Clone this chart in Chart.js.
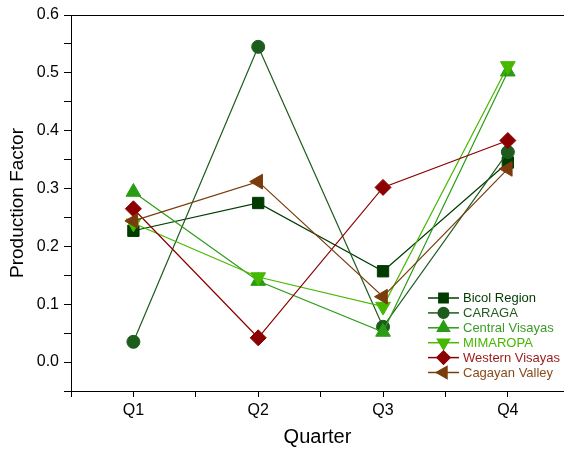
<!DOCTYPE html>
<html>
<head>
<meta charset="utf-8">
<script src="https://cdn.jsdelivr.net/npm/chart.js@4.4.1/dist/chart.umd.min.js"></script>
<style>
  html, body { margin: 0; padding: 0; background: #fff; }
  #wrap { width: 564px; height: 450px; }
</style>
</head>
<body>
<div id="wrap"><canvas id="chart"></canvas></div>
<script>
// quarters on the x axis
const quarters = ['Q1', 'Q2', 'Q3', 'Q4'];

// production factor per region
const bicolRegion     = [0.227, 0.275, 0.157, 0.345];
const caraga          = [0.035, 0.545, 0.061, 0.363];
const centralVisayas  = [0.294, 0.140, 0.052, 0.502];
const mimaropa        = [0.240, 0.147, 0.096, 0.512];
const westernVisayas  = [0.265, 0.042, 0.302, 0.383];
const cagayanValley   = [0.244, 0.312, 0.113, 0.334];

const yTickLabels = ['0.0', '0.1', '0.2', '0.3', '0.4', '0.5', '0.6'];

const series = [
    { label: 'Bicol Region',     data: bicolRegion,    color: '#003b00', text: '#003b00', style: 'rect',     radius: 8,   rotation: 0 },
    { label: 'CARAGA',           data: caraga,         color: '#1e5c1e', text: '#1e5c1e', style: 'circle',   radius: 6.5, rotation: 0 },
    { label: 'Central Visayas',  data: centralVisayas, color: '#2a9c14', text: '#3c9c28', style: 'triangle', radius: 8.5, rotation: 0 },
    { label: 'MIMAROPA',         data: mimaropa,       color: '#46b800', text: '#46b800', style: 'triangle', radius: 8.5, rotation: 180 },
    { label: 'Western Visayas',  data: westernVisayas, color: '#8b0000', text: '#9a1a1a', style: 'rectRot',  radius: 8,   rotation: 0 },
    { label: 'Cagayan Valley',   data: cagayanValley,  color: '#7a3c0c', text: '#8a4a1a', style: 'triangle', radius: 8.5, rotation: 270 }
];

// top frame line
const topBorder = {
    id: 'topBorder',
    afterDraw(chart) {
        const { ctx, chartArea } = chart;
        ctx.save();
        ctx.strokeStyle = '#000';
        ctx.lineWidth = 1;
        ctx.beginPath();
        ctx.moveTo(chartArea.left, chartArea.top + 0.5);
        ctx.lineTo(chartArea.right, chartArea.top + 0.5);
        ctx.stroke();
        ctx.restore();
    }
};

// legend sits inside the plot, lower right
const insideLegend = {
    id: 'insideLegend',
    afterDraw(chart) {
        const ctx = chart.ctx;
        const x0 = 428, x1 = 459, textX = 463;
        let y = 298;
        ctx.save();
        series.forEach(s => {
            ctx.strokeStyle = s.color;
            ctx.lineWidth = 1.5;
            ctx.beginPath();
            ctx.moveTo(x0, y);
            ctx.lineTo(x1, y);
            ctx.stroke();
            ctx.fillStyle = s.color;
            Chart.helpers.drawPoint(ctx, {
                pointStyle: s.style,
                radius: s.radius * 0.82,
                rotation: s.rotation,
                borderWidth: 1
            }, (x0 + x1) / 2, y);
            ctx.fillStyle = s.text;
            ctx.font = '13px "Liberation Sans", Arial, sans-serif';
            ctx.textBaseline = 'middle';
            ctx.textAlign = 'left';
            ctx.fillText(s.label, textX, y + 0.5);
            y += 14.9;
        });
        ctx.restore();
    }
};

const datasets = series.map((s, i) => ({
    label: s.label,
    data: s.data.map((v, j) => ({ x: j + 1, y: v })),
    borderColor: s.color,
    backgroundColor: s.color,
    borderWidth: 1.2,
    pointStyle: s.style,
    pointRadius: s.radius,
    pointRotation: s.rotation,
    pointBorderWidth: 1,
    pointBorderColor: s.color,
    pointBackgroundColor: s.color,
    tension: 0,
    clip: false,
    order: series.length - i
}));

const font = '"Liberation Sans", Arial, sans-serif';

new Chart(document.getElementById('chart'), {
    type: 'line',
    data: { datasets: datasets },
    plugins: [topBorder, insideLegend],
    options: {
        responsive: true,
        maintainAspectRatio: false,
        animation: false,
        layout: { autoPadding: false, padding: { top: 15, right: 0, bottom: 0, left: 0 } },
        plugins: {
            legend: { display: false },
            tooltip: { enabled: false }
        },
        scales: {
            x: {
                type: 'linear',
                min: 0.5,
                max: 4.45,
                afterBuildTicks: scale => {
                    scale.ticks = scale.ticks.filter(t => Math.abs(t.value * 2 - Math.round(t.value * 2)) < 1e-6 && t.value <= 4.4);
                },
                afterFit: scale => {
                    scale.height = 59;
                    scale.paddingLeft = 0;
                    scale.paddingRight = 0;
                },
                ticks: {
                    stepSize: 0.5,
                    autoSkip: false,
                    maxRotation: 0,
                    padding: 4,
                    color: '#000',
                    font: { family: font, size: 16 },
                    callback: v => Number.isInteger(v) ? quarters[v - 1] : ''
                },
                grid: {
                    drawOnChartArea: false,
                    tickLength: 6,
                    tickColor: '#000'
                },
                border: { color: '#000', width: 1 },
                title: {
                    display: true,
                    text: 'Quarter',
                    color: '#000',
                    font: { family: font, size: 20, lineHeight: 1.2 },
                    padding: { top: 0, bottom: 1 }
                }
            },
            y: {
                min: -0.05,
                max: 0.6,
                afterFit: scale => { scale.width = 71; },
                ticks: {
                    stepSize: 0.05,
                    padding: 5,
                    color: '#000',
                    font: { family: font, size: 16 },
                    callback: v => {
                        const k = Math.round(v * 100);
                        return (k >= 0 && k % 10 === 0) ? yTickLabels[k / 10] : '';
                    }
                },
                grid: {
                    drawOnChartArea: false,
                    tickLength: 7,
                    tickColor: '#000'
                },
                border: { color: '#000', width: 1 },
                title: {
                    display: true,
                    text: 'Production Factor',
                    color: '#000',
                    font: { family: font, size: 19, lineHeight: 1.2 },
                    padding: { top: 6, bottom: 0 }
                }
            }
        }
    }
});
</script>
</body>
</html>
